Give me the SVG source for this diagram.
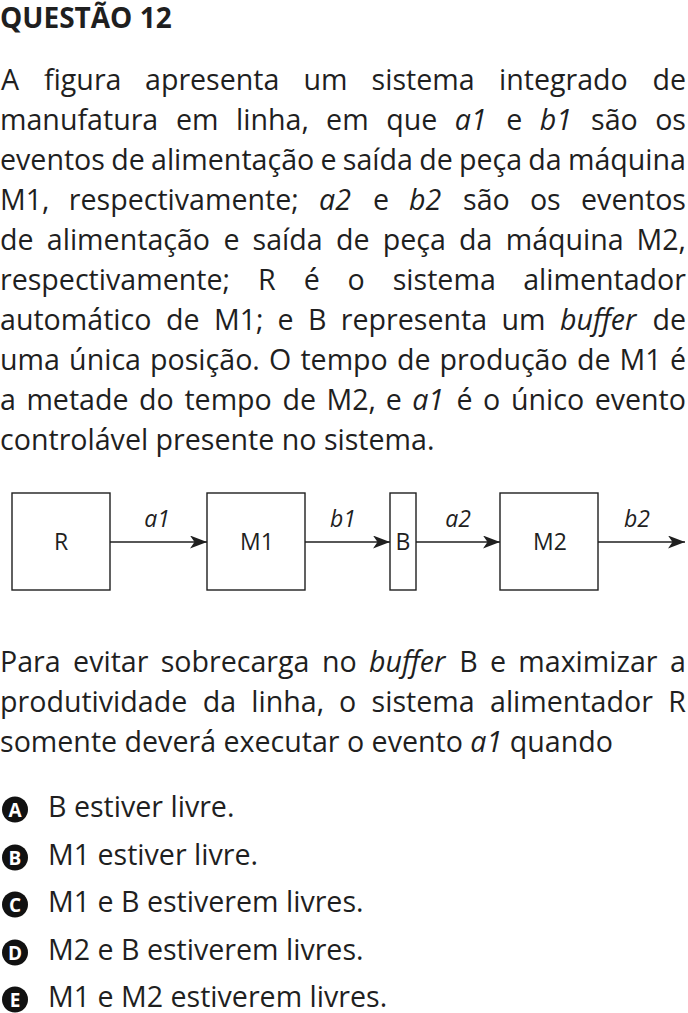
<svg xmlns="http://www.w3.org/2000/svg" width="688" height="1013" viewBox="0 0 688 1013">
<style>
text{font-family:"Open Sans","Liberation Sans",sans-serif;fill:#1f1f1f}
.t{font-size:28.6px}
.e{text-anchor:end}
.i{font-style:italic}
.h{font-size:28px;font-weight:bold}
.n{font-size:23px;text-anchor:middle}
.l{font-size:23px;font-style:italic;text-anchor:middle}
.box{fill:#fff;stroke:#1f1f1f;stroke-width:1.4}
.con{stroke:#1f1f1f;stroke-width:1.5;fill:none}
.ob{fill:#111}
.ol{font-size:19px;font-weight:bold;fill:#fff;text-anchor:middle}
</style>
<defs>
<marker id="ah" viewBox="0 0 17 13" refX="17" refY="6.5" markerWidth="17" markerHeight="13" markerUnits="userSpaceOnUse" orient="auto">
<path d="M0,0 L17,6.5 L0,13 L4.5,6.5 Z" fill="#1f1f1f"/>
</marker>
</defs>
<rect width="688" height="1013" fill="#fff"/>
<text class="h" x="0" y="28">QUESTÃO 12</text>
<g id="para1">
<text class="t" y="90"><tspan x="1">A</tspan><tspan x="44">figura</tspan><tspan x="145">apresenta</tspan><tspan x="303.5">um</tspan><tspan x="371.6">sistema</tspan><tspan x="499">integrado</tspan></text>
<text class="t e" x="686" y="90">de</text>
<text class="t" y="130"><tspan x="0">manufatura</tspan><tspan x="175.9">em</tspan><tspan x="236">linha,</tspan><tspan x="326.1">em</tspan><tspan x="386.2">que</tspan><tspan x="454.8" class="i">a1</tspan><tspan x="506.2">e</tspan><tspan x="539.7" class="i">b1</tspan><tspan x="591.1">são</tspan></text>
<text class="t e" x="686" y="130">os</text>
<text class="t" y="170"><tspan x="0">eventos</tspan><tspan x="111.2">de</tspan><tspan x="151">alimentação</tspan><tspan x="320.6">e</tspan><tspan x="342.8">saída</tspan><tspan x="419.2">de</tspan><tspan x="459">peça</tspan><tspan x="528.3">da</tspan></text>
<text class="t e" x="686" y="170">máquina</text>
<text class="t" y="210"><tspan x="0">M1,</tspan><tspan x="68.8">respectivamente;</tspan><tspan x="319" class="i">a2</tspan><tspan x="372.9">e</tspan><tspan x="409" class="i">b2</tspan><tspan x="463">são</tspan><tspan x="529.9">os</tspan></text>
<text class="t e" x="686" y="210">eventos</text>
<text class="t" y="250"><tspan x="0">de</tspan><tspan x="46.8">alimentação</tspan><tspan x="223.4">e</tspan><tspan x="252.6">saída</tspan><tspan x="336">de</tspan><tspan x="382.8">peça</tspan><tspan x="459.1">da</tspan><tspan x="505.7">máquina</tspan></text>
<text class="t e" x="686" y="250">M2,</text>
<text class="t" y="290"><tspan x="0">respectivamente;</tspan><tspan x="257.9">R</tspan><tspan x="303.8">é</tspan><tspan x="347.6">o</tspan><tspan x="392.7">sistema</tspan></text>
<text class="t e" x="686" y="290">alimentador</text>
<text class="t" y="330"><tspan x="0">automático</tspan><tspan x="166">de</tspan><tspan x="214">M1;</tspan><tspan x="277.6">e</tspan><tspan x="308">B</tspan><tspan x="340.8">representa</tspan><tspan x="501.4">um</tspan><tspan x="560" class="i">buffer</tspan></text>
<text class="t e" x="686" y="330">de</text>
<text class="t" y="370"><tspan x="0">uma</tspan><tspan x="69.1">única</tspan><tspan x="150">posição.</tspan><tspan x="269.1">O</tspan><tspan x="300.4">tempo</tspan><tspan x="396.9">de</tspan><tspan x="439.5">produção</tspan><tspan x="576.9">de</tspan><tspan x="619.5">M1</tspan></text>
<text class="t e" x="686" y="370">é</text>
<text class="t" y="410"><tspan x="0">a</tspan><tspan x="26.4">metade</tspan><tspan x="139.1">do</tspan><tspan x="184.4">tempo</tspan><tspan x="282.4">de</tspan><tspan x="326.5">M2,</tspan><tspan x="385.7">e</tspan><tspan x="412.2" class="i">a1</tspan><tspan x="456.6">é</tspan><tspan x="483.1">o</tspan><tspan x="510.9">único</tspan></text>
<text class="t e" x="686" y="410">evento</text>
<text class="t" x="0" y="450">controlável presente no sistema.</text>
</g>
<g id="connectors">
<line class="con" x1="110" y1="542" x2="207" y2="542" marker-end="url(#ah)"/>
<line class="con" x1="305" y1="542" x2="390" y2="542" marker-end="url(#ah)"/>
<line class="con" x1="416" y1="542" x2="500" y2="542" marker-end="url(#ah)"/>
<line class="con" x1="598" y1="542" x2="685" y2="542" marker-end="url(#ah)"/>
<text class="l" x="157" y="527">a1</text>
<text class="l" x="343" y="527">b1</text>
<text class="l" x="458" y="527">a2</text>
<text class="l" x="637" y="527">b2</text>
</g>
<g id="node-R"><rect class="box" x="12" y="493" width="98" height="97"/><text class="n" x="61" y="550">R</text></g>
<g id="node-M1"><rect class="box" x="207" y="493" width="98" height="97"/><text class="n" x="257" y="550">M1</text></g>
<g id="node-B"><rect class="box" x="390" y="493" width="26" height="97"/><text class="n" x="403" y="550">B</text></g>
<g id="node-M2"><rect class="box" x="500" y="493" width="98" height="97"/><text class="n" x="550" y="550">M2</text></g>
<g id="para2">
<text class="t" y="672"><tspan x="0">Para</tspan><tspan x="73.1">evitar</tspan><tspan x="160.7">sobrecarga</tspan><tspan x="321.9">no</tspan><tspan x="369" class="i">buffer</tspan><tspan x="459.3">B</tspan><tspan x="490">e</tspan><tspan x="518.3">maximizar</tspan></text>
<text class="t e" x="686" y="672">a</text>
<text class="t" y="712"><tspan x="0">produtividade</tspan><tspan x="202.7">da</tspan><tspan x="251.3">linha,</tspan><tspan x="339.1">o</tspan><tspan x="371.6">sistema</tspan><tspan x="490">alimentador</tspan></text>
<text class="t e" x="686" y="712">R</text>
<text class="t" x="0" y="752">somente deverá executar o evento <tspan class="i">a1</tspan> quando</text>
</g>
<g id="options">
<g id="opt-A"><circle class="ob" cx="15" cy="809.5" r="13"/><text class="ol" x="15" y="816.5">A</text><text class="t" x="48" y="817">B estiver livre.</text></g>
<g id="opt-B"><circle class="ob" cx="15" cy="857.5" r="13"/><text class="ol" x="15" y="864.5">B</text><text class="t" x="48" y="865">M1 estiver livre.</text></g>
<g id="opt-C"><circle class="ob" cx="15" cy="904.5" r="13"/><text class="ol" x="15" y="911.5">C</text><text class="t" x="48" y="912">M1 e B estiverem livres.</text></g>
<g id="opt-D"><circle class="ob" cx="15" cy="952.5" r="13"/><text class="ol" x="15" y="959.5">D</text><text class="t" x="48" y="960">M2 e B estiverem livres.</text></g>
<g id="opt-E"><circle class="ob" cx="15" cy="999.5" r="13"/><text class="ol" x="15" y="1006.5">E</text><text class="t" x="48" y="1007">M1 e M2 estiverem livres.</text></g>
</g>
</svg>
